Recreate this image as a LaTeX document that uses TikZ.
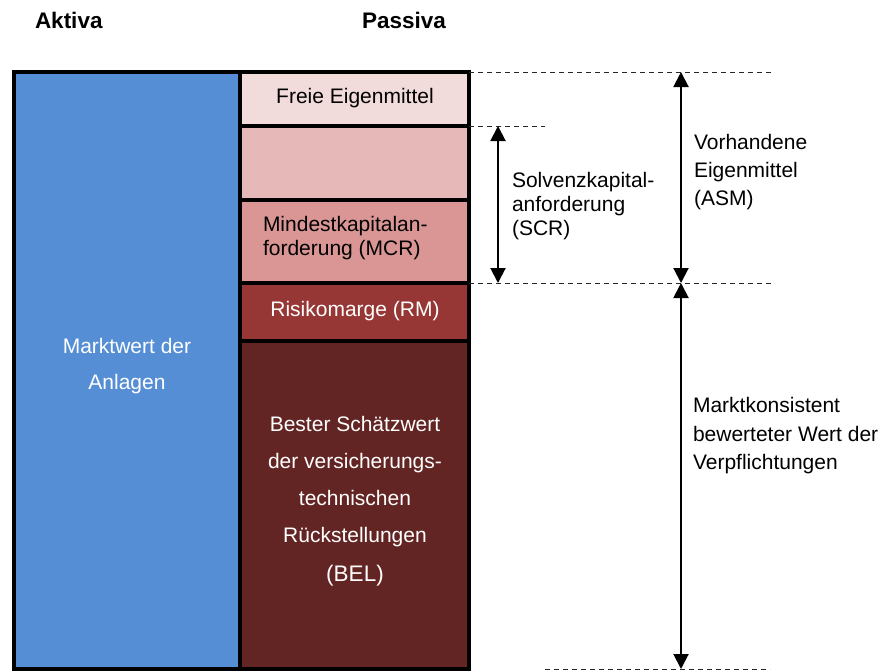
\documentclass[tikz,border=0pt]{standalone}
\usepackage{fontspec}
\setmainfont{Liberation Sans}
\usetikzlibrary{arrows.meta}

\definecolor{aktivblue}{RGB}{85,142,213}
\definecolor{freepink}{RGB}{242,220,219}
\definecolor{scrpink}{RGB}{230,185,184}
\definecolor{mcrpink}{RGB}{217,150,148}
\definecolor{rmred}{RGB}{150,55,53}
\definecolor{belbrown}{RGB}{99,37,35}

\tikzset{
  block/.style={draw=black, line width=3.2pt, rectangle, inner sep=0pt,
                outer sep=0pt, anchor=north west},
  txt/.style={inner sep=0pt, outer sep=0pt, font=\fontsize{21}{24}\selectfont},
  head/.style={inner sep=0pt, outer sep=0pt, font=\fontsize{22.5}{26}\selectfont\bfseries,
               anchor=base west},
  guide/.style={draw=black!85, line width=1pt, dash pattern=on 5pt off 4pt},
  span/.style={draw=black, line width=2pt,
               {Triangle[length=15pt,width=15pt]}-{Triangle[length=15pt,width=15pt]}},
}

\begin{document}
\begin{tikzpicture}[x=1pt, y=-1pt]
  \useasboundingbox (0,0) rectangle (885,670);

  % headings
  \node[head] (aktiva) at (35,28) {Aktiva};
  \node[head] (passiva) at (362,28) {Passiva};

  % assets column
  \node[block, fill=aktivblue, minimum width=226pt, minimum height=597pt] (assets) at (14,72) {};

  % liabilities column, top to bottom
  \node[block, fill=freepink,  minimum width=229pt, minimum height=54pt]  (free) at (240,72)  {};
  \node[block, fill=scrpink,   minimum width=229pt, minimum height=74pt]  (scr)  at (240,126) {};
  \node[block, fill=mcrpink,   minimum width=229pt, minimum height=83pt]  (mcr)  at (240,200) {};
  \node[block, fill=rmred,     minimum width=229pt, minimum height=58pt]  (rm)   at (240,283) {};
  \node[block, fill=belbrown,  minimum width=229pt, minimum height=328pt] (bel)  at (240,341) {};

  % texts inside the columns
  \node[txt, text=white, align=center, anchor=north,
        font=\fontsize{21}{36}\selectfont] (assetstxt) at (127,338.7)
        {Marktwert der\\Anlagen};
  \node[txt, anchor=base] (freetxt) at (355,103) {Freie Eigenmittel};
  \node[txt, align=left, anchor=north west,
        font=\fontsize{21}{23.5}\selectfont] (mcrtxt) at (263,216.4)
        {Mindestkapitalan-\\forderung (MCR)};
  \node[txt, text=white, anchor=base] (rmtxt) at (355,316.5) {Risikomarge (RM)};
  \node[txt, text=white, align=center, anchor=north,
        font=\fontsize{21}{36.7}\selectfont] (beltxt) at (355,416.7)
        {Bester Schätzwert\\der versicherungs-\\technischen\\Rückstellungen\\[3pt]%
         {\fontsize{22.5}{36.7}\selectfont(BEL)}};

  % guide lines to the right
  \coordinate (g1) at (773,72);
  \coordinate (g2) at (545,126);
  \coordinate (g3) at (773,283);
  \coordinate (g4a) at (545,669);
  \coordinate (g4b) at (770,669);
  \draw[guide] (free.north east) -- (g1);
  \draw[guide] (scr.north east) -- (g2);
  \draw[guide] (mcr.south east) -- (g3);
  \draw[guide] (g4a) -- (g4b);

  % dimension arrows
  \coordinate (scrtop) at (498,126);
  \coordinate (scrbot) at (498,283);
  \coordinate (asmtop) at (681,72);
  \coordinate (asmbot) at (681,283);
  \coordinate (liabbot) at (681,669);
  \draw[span] (scrtop) -- (scrbot);
  \draw[span] (asmtop) -- (asmbot);
  \draw[span] (asmbot) -- (liabbot);

  % dimension labels
  \node[txt, align=left, anchor=north west] (scrlabel) at (512,172.7)
        {Solvenzkapital-\\anforderung\\(SCR)};
  \node[txt, align=left, anchor=north west,
        font=\fontsize{21}{28}\selectfont] (asmlabel) at (694,134.7)
        {Vorhandene\\Eigenmittel\\(ASM)};
  \node[txt, align=left, anchor=north west,
        font=\fontsize{21}{28.5}\selectfont] (liablabel) at (693,397.7)
        {Marktkonsistent\\bewerteter Wert der\\Verpflichtungen};
\end{tikzpicture}
\end{document}
